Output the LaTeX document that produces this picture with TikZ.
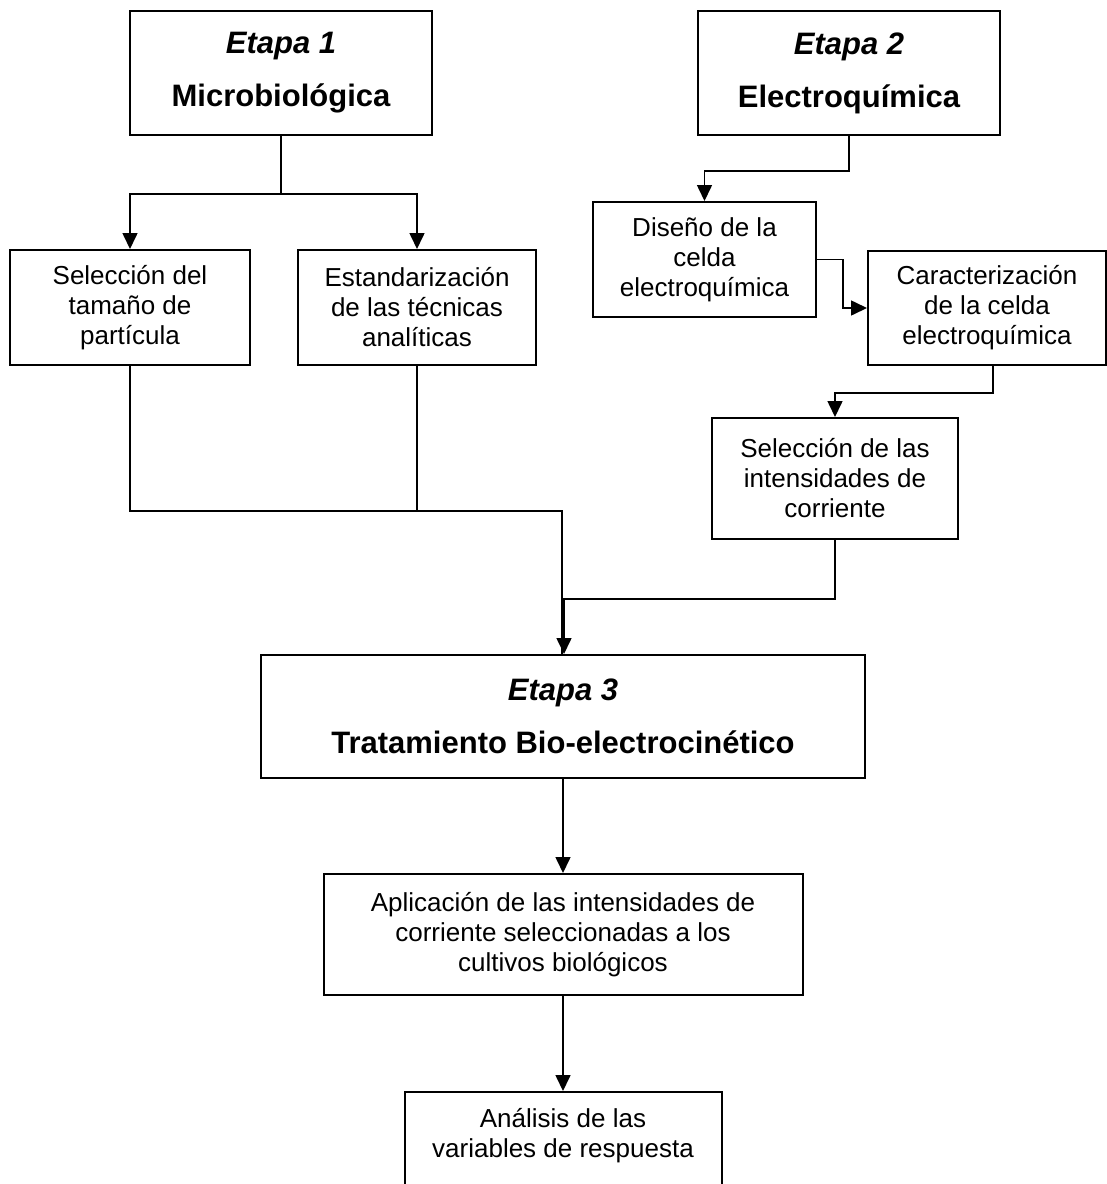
\documentclass[tikz,border=0pt]{standalone}
\usepackage{fontspec}
\setmainfont{Liberation Sans}
\usepackage{tikz}
\usetikzlibrary{arrows.meta}
\tikzstyle{stagebox}=[rectangle,draw,line width=2pt,align=center,font=\bfseries\fontsize{31}{53}\selectfont]
\tikzstyle{taskbox}=[rectangle,draw,line width=2pt,align=center,font=\fontsize{26}{30}\selectfont]
\tikzstyle{link}=[draw,line width=1.6pt]
\tikzstyle{arrowlink}=[draw,line width=1.6pt,-{Triangle[length=16pt,width=15pt]}]

\begin{document}
\begin{tikzpicture}[x=1pt,y=-1pt]
    \useasboundingbox (0,0) rectangle (1107,1184);
    \clip (0,0) rectangle (1107,1184);

    % etapas
    \node[stagebox,minimum width=302,minimum height=124] (etapa1) at (281,73) {\textit{Etapa 1}\\Microbiológica};
    \node[stagebox,minimum width=302,minimum height=124] (etapa2) at (849,73) {\textit{Etapa 2}\\Electroquímica};
    \node[stagebox,minimum width=604,minimum height=123] (etapa3) at (563,716.5) {\textit{Etapa 3}\\Tratamiento Bio-electrocinético};

    \foreach \pos/\name/\boxw/\boxh/\label in {{(130,307.5)/selpart/240/115/{Selección del\\tamaño de\\partícula}},
        {(417,307.5)/estand/238/115/{Estandarización\\de las técnicas\\analíticas}},
        {(704.5,259.5)/diseno/223/115/{Diseño de la\\celda\\electroquímica}},
        {(987,308)/carac/238/114/{Caracterización\\de la celda\\electroquímica}},
        {(835,478.5)/selint/246/121/{Selección de las\\intensidades de\\corriente}},
        {(563,934.5)/aplic/479/121/{Aplicación de las intensidades de\\corriente seleccionadas a los\\cultivos biológicos}}}
        \node[taskbox,minimum width=\boxw,minimum height=\boxh] (\name) at \pos {\label};
    \node[taskbox,minimum width=317,minimum height=120,anchor=north] (anal) at (563,1091) {Análisis de las\\variables de respuesta\\ \strut};

    % conexiones
    \path[arrowlink] (etapa1.south) -- ++(0,58) -| (selpart.north);
    \path[arrowlink] (etapa1.south) -- ++(0,58) -| (estand.north);
    \path[arrowlink] (etapa2.south) -- ++(0,35) -| (diseno.north);
    \path[arrowlink] (diseno.east) -- ++(26,0) |- (carac.west);
    \path[arrowlink] ([xshift=6]carac.south) -- ++(0,27) -| (selint.north);
    \path[link] (selpart.south) -- ++(0,145) -| ([xshift=-1]etapa3.north);
    \path[link] (estand.south) -- ++(0,145);
    \path[arrowlink] (selint.south) -- ++(0,59) -| ([xshift=1]etapa3.north);
    \path[arrowlink] (etapa3.south) -- (aplic.north);
    \path[arrowlink] (aplic.south) -- (anal.north);
\end{tikzpicture}
\end{document}
